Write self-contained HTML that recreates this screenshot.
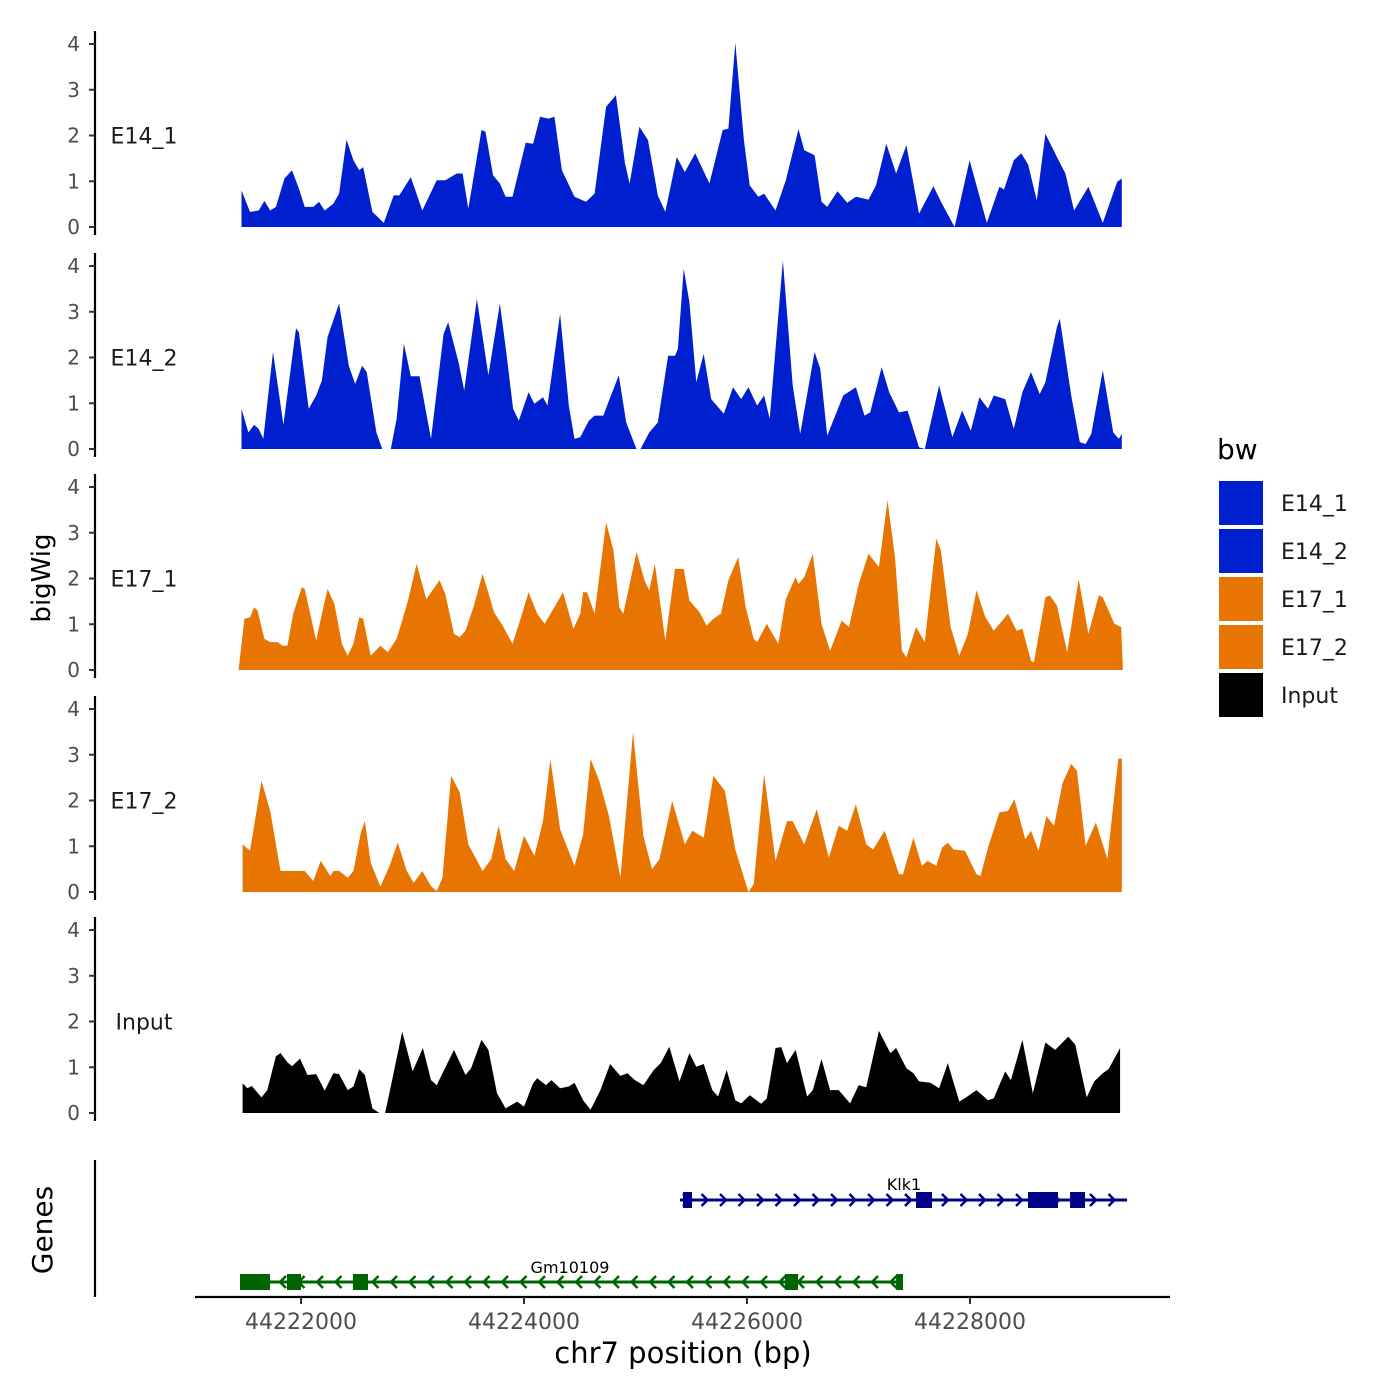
<!DOCTYPE html>
<html><head><meta charset="utf-8"><style>
html,body{margin:0;padding:0;background:#fff;}
svg{display:block;font-family:"DejaVu Sans","Liberation Sans",sans-serif;}
</style></head><body>
<svg id="chart" width="1400" height="1400" viewBox="0 0 1400 1400"></svg>
<script>
const regionStart = 44221363;
const trackNames = ["E14_1","E14_2","E17_1","E17_2","Input"];
const trackColors = ["#0020CF","#0020CF","#E87502","#E87502","#000000"];
const yTicks = [0,1,2,3,4];
const xTickValues = [44222000,44224000,44226000,44228000];
const xTickLabels = ["44222000","44224000","44226000","44228000"];

const e14_1_pos = [103,180,258,309,361,412,489,556,618,670,747,798,850,927,979,1045,1107,1159,1195,1277,1380,1468,1519,1622,1725,1854,1931,2034,2086,2137,2256,2292,2359,2421,2472,2534,2652,2719,2781,2858,2910,2977,3090,3193,3270,3373,3461,3543,3584,3672,3749,3837,3904,4007,4079,4172,4300,4419,4470,4532,4609,4661,4738,4790,4893,4985,5099,5150,5243,5305,5356,5449,5536,5614,5727,5794,5886,5974,6067,6180,6309,6386,6499,6633,6788,6901,6942,7030,7097,7159,7236,7313,7416,7493,7571,7699,7828,7957,7998];
const e14_1_val = [0.8,0.33,0.36,0.57,0.36,0.44,1.06,1.24,0.84,0.44,0.44,0.55,0.36,0.51,0.73,1.91,1.46,1.24,1.31,0.33,0.09,0.69,0.69,1.09,0.36,1.02,1.02,1.17,1.17,0.4,2.12,2.08,1.13,0.95,0.66,0.66,1.84,1.82,2.41,2.37,2.41,1.24,0.66,0.55,0.73,2.63,2.88,1.39,0.95,2.19,1.9,0.69,0.33,1.53,1.2,1.61,0.95,2.12,2.15,4.03,1.9,0.91,0.66,0.73,0.36,1.02,2.14,1.68,1.57,0.55,0.44,0.78,0.53,0.66,0.6,0.91,1.82,1.17,1.79,0.29,0.89,0.51,0,1.46,0.09,0.88,0.82,1.46,1.61,1.36,0.58,2.04,1.53,1.17,0.36,0.88,0.09,0.99,1.06];

const e14_2_pos = [103,165,216,258,299,386,479,592,618,706,773,824,876,979,1066,1123,1185,1226,1313,1365,1442,1494,1560,1622,1700,1803,1916,1957,2050,2101,2215,2318,2421,2472,2539,2590,2678,2730,2807,2848,2961,3039,3090,3142,3219,3270,3348,3399,3487,3554,3646,3682,3760,3837,3929,3991,4017,4069,4120,4182,4249,4316,4429,4511,4584,4650,4728,4790,4841,4959,5047,5114,5243,5294,5356,5500,5614,5691,5742,5845,5912,6000,6077,6180,6232,6360,6479,6566,6644,6721,6798,6850,6953,7030,7107,7184,7262,7313,7416,7442,7545,7622,7674,7725,7828,7921,7972,7998];
const e14_2_val = [0.88,0.36,0.53,0.44,0.22,2.12,0.53,2.64,2.55,0.88,1.17,1.5,2.45,3.18,1.82,1.42,1.82,1.68,0.36,0,0,0.66,2.3,1.59,1.59,0.22,2.52,2.77,1.9,1.28,3.28,1.61,3.18,2.23,0.88,0.62,1.24,0.99,1.13,0.95,2.96,0.95,0.22,0.26,0.62,0.73,0.73,1.06,1.61,0.58,0,0,0.36,0.58,2.04,2.04,2.19,3.94,3.21,1.46,2.08,1.09,0.77,1.35,1.09,1.35,0.95,1.17,0.66,4.12,1.39,0.33,2.12,1.75,0.29,1.17,1.35,0.73,0.8,1.79,1.24,0.8,0.84,0.04,0,1.39,0.26,0.84,0.4,1.13,0.88,1.17,1.09,0.44,1.24,1.68,1.2,1.46,2.66,2.85,1.17,0.15,0.11,0.33,1.72,0.36,0.22,0.33];

const e17_1_pos = [77,129,180,216,247,309,361,427,474,515,567,644,670,773,824,876,937,1004,1056,1107,1159,1195,1262,1349,1416,1494,1545,1597,1674,1761,1880,1931,2009,2060,2112,2189,2266,2307,2369,2446,2534,2601,2678,2755,2822,2910,2987,3080,3142,3167,3203,3270,3373,3440,3492,3528,3646,3718,3760,3811,3904,3991,4069,4120,4213,4275,4336,4403,4470,4558,4625,4697,4728,4815,4918,4985,5073,5099,5150,5227,5305,5382,5485,5552,5639,5727,5820,5897,5964,6026,6067,6154,6232,6335,6376,6463,6541,6618,6695,6772,6850,6927,6978,7056,7107,7184,7210,7313,7354,7416,7509,7581,7612,7699,7792,7828,7931,7993,8008];
const e17_1_val = [0,1.12,1.15,1.37,1.3,0.68,0.61,0.61,0.53,0.53,1.23,1.81,1.77,0.64,1.23,1.77,1.45,0.57,0.31,0.57,1.15,1.12,0.31,0.53,0.39,0.68,1.08,1.52,2.32,1.55,1.96,1.66,0.79,0.72,0.86,1.41,2.1,1.77,1.26,0.97,0.57,1.08,1.7,1.23,1.01,1.37,1.7,0.9,1.23,1.7,1.7,1.23,3.23,2.61,1.37,1.23,2.58,1.96,1.74,2.32,0.64,2.21,2.21,1.52,1.26,0.97,1.12,1.23,1.96,2.47,1.37,0.68,0.61,1.01,0.57,1.55,2.03,1.88,2.03,2.54,1.01,0.42,1.08,0.94,1.88,2.54,2.25,3.71,2.47,0.42,0.28,0.94,0.61,2.87,2.61,0.94,0.31,0.79,1.74,1.17,0.86,1.08,1.23,0.86,0.9,0.2,0.17,1.59,1.63,1.41,0.39,1.52,1.99,0.79,1.63,1.59,1.01,0.94,0];

const e17_2_pos = [113,180,283,361,453,670,747,814,901,927,979,1056,1107,1174,1210,1262,1349,1432,1504,1586,1648,1725,1803,1854,1906,1983,2060,2137,2266,2343,2410,2472,2549,2637,2730,2807,2874,2961,3090,3167,3234,3311,3399,3502,3615,3708,3785,3852,3966,4079,4146,4249,4336,4439,4532,4650,4697,4790,4893,4996,5047,5150,5263,5371,5459,5536,5614,5706,5768,5871,6000,6036,6129,6206,6257,6335,6386,6438,6489,6592,6695,6731,6798,6901,6978,7035,7133,7184,7251,7323,7390,7468,7545,7596,7674,7766,7869,7967,7998];
const e17_2_val = [1.04,0.9,2.43,1.77,0.46,0.46,0.24,0.68,0.35,0.46,0.46,0.31,0.46,1.3,1.55,0.64,0.12,0.57,1.08,0.46,0.2,0.46,0.13,0.02,0.31,2.54,2.18,1.04,0.46,0.72,1.45,0.72,0.46,1.23,0.79,1.55,2.91,1.37,0.57,1.26,2.91,2.43,1.66,0.31,3.49,1.23,0.5,0.72,1.99,1.04,1.34,1.19,2.54,2.21,0.93,0,0.17,2.58,0.68,1.55,1.55,1.04,1.81,0.75,1.45,1.34,1.92,1.04,0.93,1.34,0.39,0.39,1.19,0.57,0.68,0.57,0.97,1.08,0.93,0.9,0.39,0.35,0.97,1.74,1.77,2.03,1.15,1.34,0.9,1.66,1.45,2.39,2.8,2.65,1.01,1.52,0.72,2.91,2.92];

const input_pos = [113,155,196,283,335,412,453,515,556,628,695,773,850,927,979,1056,1107,1159,1210,1277,1339,1391,1442,1545,1638,1730,1803,1854,2009,2112,2163,2256,2318,2395,2472,2575,2637,2719,2755,2833,2884,2961,3039,3090,3167,3234,3322,3409,3502,3564,3631,3708,3801,3863,3940,4032,4120,4182,4249,4326,4378,4455,4532,4584,4661,4764,4815,4893,4944,4996,5073,5176,5227,5305,5382,5459,5562,5639,5706,5820,5923,5974,6067,6129,6180,6283,6360,6438,6541,6618,6695,6798,6850,6953,7004,7107,7200,7313,7401,7519,7581,7684,7751,7828,7880,7983];
const input_val = [0.65,0.54,0.59,0.34,0.5,1.24,1.31,1.11,1.02,1.19,0.83,0.85,0.49,0.87,0.85,0.5,0.58,0.96,0.83,0.1,0,0,0.58,1.78,0.91,1.42,0.72,0.61,1.38,0.83,0.98,1.6,1.38,0.43,0.1,0.25,0.14,0.65,0.76,0.61,0.72,0.54,0.58,0.66,0.28,0.07,0.5,1.07,0.81,0.87,0.72,0.61,0.94,1.09,1.45,0.69,1.31,1.01,1.07,0.5,0.36,0.94,0.28,0.21,0.39,0.2,0.32,1.42,1.44,1.09,1.38,0.36,0.5,1.18,0.5,0.5,0.21,0.61,0.56,1.8,1.31,1.42,0.98,0.87,0.69,0.66,0.54,1.09,0.25,0.37,0.5,0.28,0.32,0.91,0.72,1.6,0.43,1.54,1.38,1.67,1.49,0.34,0.69,0.87,0.96,1.42];

const geneNames = ["Klk1","Gm10109"];
const geneStarts = [44225399,44221453];
const geneEnds = [44229409,44227399];
const geneStrands = ["+","-"];
const klk1ExonStarts = [44225426,44227516,44228520,44228897];
const klk1ExonEnds = [44225507,44227659,44228789,44229032];
const gmExonStarts = [44221453,44221874,44222466,44226341,44227337];
const gmExonEnds = [44221722,44222000,44222601,44226458,44227399];

const NS="http://www.w3.org/2000/svg";
const svg=document.getElementById('chart');
function mk(tag,attrs,parent){const e=document.createElementNS(NS,tag);for(const k in attrs)e.setAttribute(k,attrs[k]);(parent||svg).appendChild(e);return e;}
function xScale(bp){return 301+(bp-44222000)*223/2000;}
const panelZero=[227,449,670,892,1113];
const unitPx=45.75;
function yScale(p,v){return panelZero[p]-v*unitPx;}

const allPos=[e14_1_pos,e14_2_pos,e17_1_pos,e17_2_pos,input_pos];
const allVal=[e14_1_val,e14_2_val,e17_1_val,e17_2_val,input_val];

for(let p=0;p<5;p++){
  const g=mk('g',{});
  
  
  const ax=mk('line',{x1:95,y1:panelZero[p]-196,x2:95,y2:panelZero[p]+8,stroke:'#000','stroke-width':2.2},g);
  
  
  for(const t of yTicks){
    const y=yScale(p,t);
    const tk=mk('line',{x1:89,y1:y,x2:95,y2:y,stroke:'#333','stroke-width':2},g);
    
    
    const tl=mk('text',{x:80,y:y+7,'text-anchor':'end','font-size':20,fill:'#4d4d4d'},g);
    tl.textContent=t;
    
    
  }
  const lab=mk('text',{x:144,y:yScale(p,2)+8,'text-anchor':'middle','font-size':22,fill:'#1a1a1a'},g);
  lab.textContent=trackNames[p];
  
  
  const pos=allPos[p],val=allVal[p];
  let d='M'+xScale(regionStart+pos[0]).toFixed(1)+','+panelZero[p];
  for(let i=0;i<pos.length;i++)d+=' L'+xScale(regionStart+pos[i]).toFixed(1)+','+yScale(p,val[i]).toFixed(1);
  d+=' L'+xScale(regionStart+pos[pos.length-1]).toFixed(1)+','+panelZero[p]+' Z';
  const area=mk('path',{d:d,fill:trackColors[p]},g);
  
  
}

const bw=mk('text',{x:50,y:578,'text-anchor':'middle','font-size':26,fill:'#000',transform:'rotate(-90 50 578)'});
bw.textContent='bigWig';



const gAx=mk('line',{x1:95,y1:1160,x2:95,y2:1297,stroke:'#000','stroke-width':2.2});


const gt=mk('text',{x:52,y:1230,'text-anchor':'middle','font-size':28,fill:'#000',transform:'rotate(-90 52 1230)'});
gt.textContent='Genes';



const geneY=[1200,1282];
const geneCol=['#00008B','#006400'];
const exS=[klk1ExonStarts,gmExonStarts],exE=[klk1ExonEnds,gmExonEnds];
for(let k=0;k<2;k++){
  const g=mk('g',{});
  
  
  const y=geneY[k],c=geneCol[k];
  const x1=xScale(geneStarts[k]),x2=xScale(geneEnds[k]);
  mk('line',{x1:x1,y1:y,x2:x2,y2:y,stroke:c,'stroke-width':3},g);
  for(let x=x1+6;x<x2-2;x+=18.5){
    const d=geneStrands[k]=='+'?`M${x-3},${y-6} L${x+3},${y} L${x-3},${y+6}`:`M${x+3},${y-6} L${x-3},${y} L${x+3},${y+6}`;
    const ch=mk('path',{d:d,fill:'none',stroke:c,'stroke-width':2.5},g);
    
    
  }
  for(let i=0;i<exS[k].length;i++){
    const ex=mk('rect',{x:xScale(exS[k][i]),y:y-8,width:xScale(exE[k][i])-xScale(exS[k][i]),height:16,fill:c},g);
    
    
  }
  const t=mk('text',{x:k==0?904:570,y:k==0?1190:1273,'text-anchor':'middle','font-size':16,fill:'#000'},g);
  t.textContent=geneNames[k];
  
  
}

const xa=mk('line',{x1:195,y1:1297,x2:1170,y2:1297,stroke:'#000','stroke-width':2.2});


for(let i=0;i<xTickValues.length;i++){
  const x=xScale(xTickValues[i]);
  const tk=mk('line',{x1:x,y1:1297,x2:x,y2:1304,stroke:'#333','stroke-width':2});
  
  
  const tl=mk('text',{x:x,y:1329,'text-anchor':'middle','font-size':22,fill:'#4d4d4d'});
  tl.textContent=xTickLabels[i];
  
  
}
const xt=mk('text',{x:683,y:1363,'text-anchor':'middle','font-size':29,fill:'#000'});
xt.textContent='chr7 position (bp)';



const lg=mk('g',{});


const lt=mk('text',{x:1217,y:459,'font-size':28,fill:'#000'},lg);
lt.textContent='bw';


for(let i=0;i<5;i++){
  const y=481+i*48;
  const e=mk('g',{},lg);
  
  
  mk('rect',{x:1219,y:y,width:44,height:44,fill:trackColors[i]},e);
  const t=mk('text',{x:1281,y:y+30,'font-size':22,fill:'#1a1a1a'},e);
  t.textContent=trackNames[i];
}
</script>
</body></html>
